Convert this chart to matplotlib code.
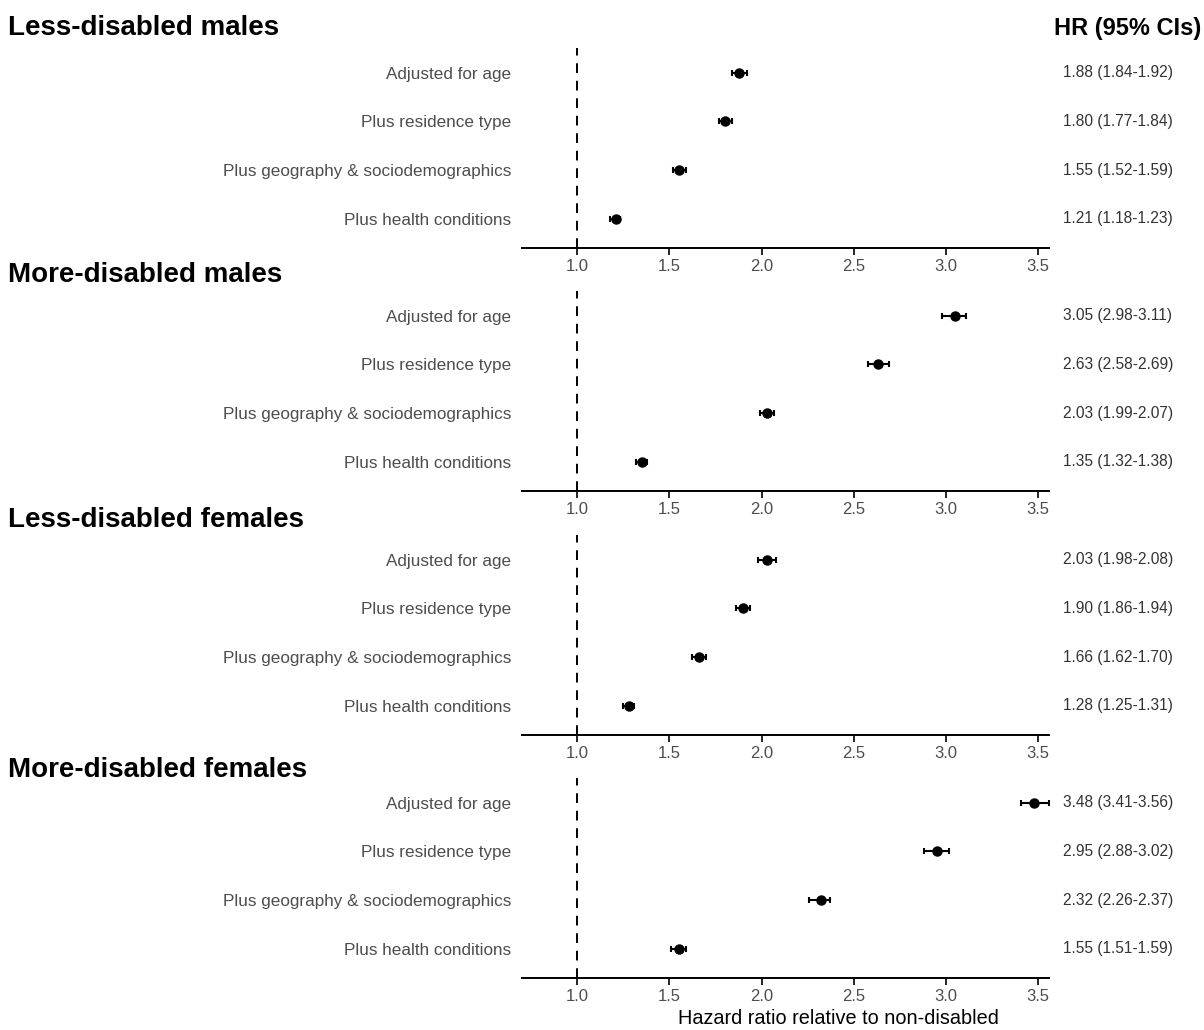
import matplotlib
matplotlib.use("Agg")
import matplotlib.pyplot as plt

plt.rcParams['font.family'] = ['Liberation Sans', 'DejaVu Sans']

panels = ["Less-disabled males", "More-disabled males",
          "Less-disabled females", "More-disabled females"]
models = ["Adjusted for age", "Plus residence type",
          "Plus geography & sociodemographics", "Plus health conditions"]
hr = [[1.88, 1.80, 1.55, 1.21],
      [3.05, 2.63, 2.03, 1.35],
      [2.03, 1.90, 1.66, 1.28],
      [3.48, 2.95, 2.32, 1.55]]
lo = [[1.84, 1.77, 1.52, 1.18],
      [2.98, 2.58, 1.99, 1.32],
      [1.98, 1.86, 1.62, 1.25],
      [3.41, 2.88, 2.26, 1.51]]
hi = [[1.92, 1.84, 1.59, 1.23],
      [3.11, 2.69, 2.07, 1.38],
      [2.08, 1.94, 1.70, 1.31],
      [3.56, 3.02, 2.37, 1.59]]
xticks = [1.0, 1.5, 2.0, 2.5, 3.0, 3.5]
xtick_labels = ["1.0", "1.5", "2.0", "2.5", "3.0", "3.5"]

W, H = 1204, 1030
fig = plt.figure(figsize=(W / 100, H / 100), dpi=100)

def fx(x):
    return x / W

def fy(y):
    return 1 - y / H

ax_left, ax_right = 522, 1049
bottoms = [248, 491, 735, 978]
titles_y = [28, 275, 520, 770]
unit = 48.7
ylo, yhi = -0.5, 3.6
ax_h = (yhi - ylo) * unit
gray = "#4D4D4D"

for p in range(4):
    b = bottoms[p]
    ax = fig.add_axes([fx(ax_left), fy(b), fx(ax_right) - fx(ax_left), ax_h / H])
    ax.set_xlim(0.70, 3.56)
    ax.set_ylim(yhi, ylo)
    ax.axvline(1.0, color="black", linestyle=(0, (5, 4)), linewidth=1.4, zorder=1)
    ys = list(range(4))
    xerr = [[hr[p][i] - lo[p][i] for i in ys], [hi[p][i] - hr[p][i] for i in ys]]
    ax.errorbar(hr[p], ys, xerr=xerr, fmt="o", color="black", ms=6.5,
                elinewidth=1.5, capsize=2.5, capthick=1.5, zorder=3)
    for s in ["top", "right", "left"]:
        ax.spines[s].set_visible(False)
    ax.spines["bottom"].set_linewidth(1.4)
    ax.set_xticks(xticks)
    ax.set_xticklabels(xtick_labels)
    ax.tick_params(axis="x", length=5, width=1.2, color="black",
                   labelcolor=gray, labelsize=12, pad=3)
    ax.set_yticks(ys)
    ax.set_yticklabels(models)
    ax.tick_params(axis="y", length=0, labelcolor=gray, labelsize=12.3, pad=8)
    ax.patch.set_alpha(0)
    fig.text(fx(8), fy(titles_y[p]), panels[p], fontsize=20, fontweight="bold",
             ha="left", va="center", color="black")
    for i in ys:
        ypix = b - (yhi - i) * unit
        fig.text(fx(1063), fy(ypix), f"{hr[p][i]:.2f} ({lo[p][i]:.2f}-{hi[p][i]:.2f})",
                 fontsize=11.2, ha="left", va="center", color="#333333")

fig.text(fx(1201), fy(28), "HR (95% CIs)", fontsize=17, fontweight="bold",
         ha="right", va="center", color="black")
fig.text(fx(838), fy(1018), "Hazard ratio relative to non-disabled", fontsize=14.3,
         ha="center", va="center", color="black")

fig.savefig("out.png", dpi=100)
